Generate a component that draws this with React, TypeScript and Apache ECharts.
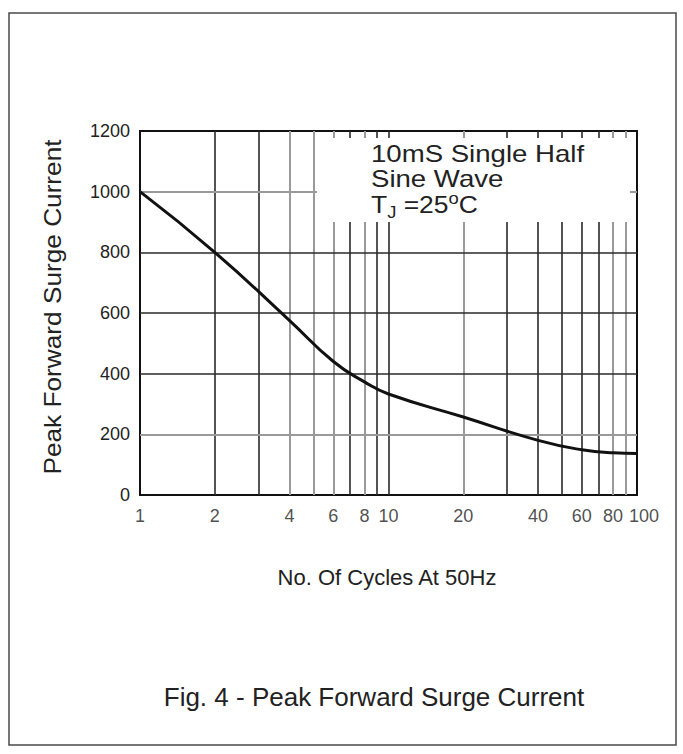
import React, { useEffect, useRef } from "react";
import * as echarts from "echarts";

// Data (values at the labelled grid lines)
const cycles = [1, 2, 4, 6, 8, 10, 20, 40, 60, 80, 100];
const surgeCurrent = [1000, 800, 575, 440, 373, 333, 257, 180, 149, 139, 137];
const xTickLabels = [1, 2, 4, 6, 8, 10, 20, 40, 60, 80, 100];
const darkGridX = [2, 3, 7, 9, 10, 30, 40, 50, 60, 70];
const grayGridX = [4, 5, 6, 8, 20, 80, 90];
const darkGridY = [400, 600, 800];
const grayGridY = [200, 1000];

const FONT = "'Liberation Sans', Arial, Helvetica, sans-serif";
const TEXT = "#222";

export default function App() {
  const ref = useRef<HTMLDivElement>(null);

  useEffect(() => {
    if (!ref.current) return;
    const chart = echarts.init(ref.current, null, { renderer: "svg" });

    const darkStyle = { color: "#2a2a2a", width: 1.6, type: "solid" };
    const grayStyle = { color: "#9a9a9a", width: 2, type: "solid" };

    const gridLines: any[] = [
      ...darkGridX.map((v) => ({ xAxis: v, lineStyle: darkStyle })),
      ...grayGridX.map((v) => ({ xAxis: v, lineStyle: grayStyle })),
      ...darkGridY.map((v) => ({ yAxis: v, lineStyle: darkStyle })),
      ...grayGridY.map((v) => ({ yAxis: v, lineStyle: grayStyle })),
    ];

    chart.setOption({
      animation: false,
      backgroundColor: "#fff",
      textStyle: { fontFamily: FONT },
      grid: {
        left: 140,
        top: 131,
        width: 497,
        height: 364,
        show: true,
        borderColor: "#111",
        borderWidth: 2,
      },
      xAxis: {
        type: "log",
        logBase: 10,
        min: 1,
        max: 100,
        axisLine: { show: true, lineStyle: { color: "#111", width: 2 } },
        axisTick: { show: false },
        axisLabel: { show: false },
        splitLine: { show: false },
      },
      yAxis: {
        type: "value",
        min: 0,
        max: 1200,
        interval: 200,
        axisLine: { show: true, lineStyle: { color: "#111", width: 2 } },
        axisTick: { show: false },
        axisLabel: {
          fontSize: 18,
          color: TEXT,
          margin: 10,
          fontFamily: FONT,
          formatter: (v: number) => String(v),
        },
        splitLine: { show: false },
      },
      series: [
        {
          type: "scatter",
          z: 1,
          symbolSize: 1,
          itemStyle: { color: "rgba(0,0,0,0)" },
          silent: true,
          data: xTickLabels.map((v) =>
            v === 100 ? { value: [v, 0], label: { offset: [7, 0] } } : { value: [v, 0] }
          ),
          label: {
            show: true,
            position: "bottom",
            distance: 11,
            fontSize: 18,
            color: TEXT,
            fontFamily: FONT,
            formatter: (p: any) => String(p.value[0]),
          },
          markLine: {
            silent: true,
            symbol: ["none", "none"],
            label: { show: false },
            data: gridLines,
          },
        },
        {
          type: "line",
          z: 5,
          name: "Peak Forward Surge Current",
          data: cycles.map((c, i) => [c, surgeCurrent[i]]),
          smooth: true,
          showSymbol: false,
          lineStyle: { color: "#111", width: 3 },
        },
      ],
      graphic: [
        {
          type: "rect",
          z: 0,
          shape: { x: 9, y: 13, width: 667, height: 732 },
          style: { fill: "none", stroke: "#4a4a4a", lineWidth: 1.5 },
        },
        {
          type: "rect",
          z: 50,
          shape: { x: 317, y: 138, width: 313, height: 84 },
          style: { fill: "#fff" },
        },
        {
          type: "text",
          z: 60,
          x: 371,
          y: 154,
          scaleX: 1.2,
          style: {
            text: "10mS Single Half",
            fontSize: 23,
            fontFamily: FONT,
            fill: TEXT,
            align: "left",
            verticalAlign: "middle",
          },
        },
        {
          type: "text",
          z: 60,
          x: 371,
          y: 179,
          scaleX: 1.2,
          style: {
            text: "Sine Wave",
            fontSize: 23,
            fontFamily: FONT,
            fill: TEXT,
            align: "left",
            verticalAlign: "middle",
          },
        },
        {
          type: "text",
          z: 60,
          x: 371,
          y: 205,
          scaleX: 1.15,
          style: {
            text: "{m|T}{sub|J}{m| =25}{sup|o}{m|C}",
            fontFamily: FONT,
            fill: TEXT,
            align: "left",
            verticalAlign: "middle",
            rich: {
              m: { fontSize: 23, lineHeight: 30, verticalAlign: "middle", fill: TEXT, fontFamily: FONT },
              sub: { fontSize: 16, lineHeight: 16, verticalAlign: "bottom", fill: TEXT, fontFamily: FONT },
              sup: { fontSize: 16, lineHeight: 16, verticalAlign: "top", fill: TEXT, fontFamily: FONT },
            },
          },
        },
        {
          type: "text",
          z: 60,
          x: 53,
          y: 307,
          rotation: Math.PI / 2,
          scaleX: 1.14,
          style: {
            text: "Peak Forward Surge Current",
            fontSize: 23,
            fontFamily: FONT,
            fill: TEXT,
            align: "center",
            verticalAlign: "middle",
          },
        },
        {
          type: "text",
          z: 60,
          x: 387,
          y: 577,
          style: {
            text: "No. Of Cycles At 50Hz",
            fontSize: 22,
            fontFamily: FONT,
            fill: TEXT,
            align: "center",
            verticalAlign: "middle",
          },
        },
        {
          type: "text",
          z: 60,
          x: 374,
          y: 697,
          style: {
            text: "Fig. 4 - Peak Forward Surge Current",
            fontSize: 26,
            fontFamily: FONT,
            fill: TEXT,
            align: "center",
            verticalAlign: "middle",
          },
        },
      ],
    });

    return () => chart.dispose();
  }, []);

  return (
    <div
      ref={ref}
      style={{ position: "absolute", left: 0, top: 0, width: 683, height: 754 }}
    />
  );
}
